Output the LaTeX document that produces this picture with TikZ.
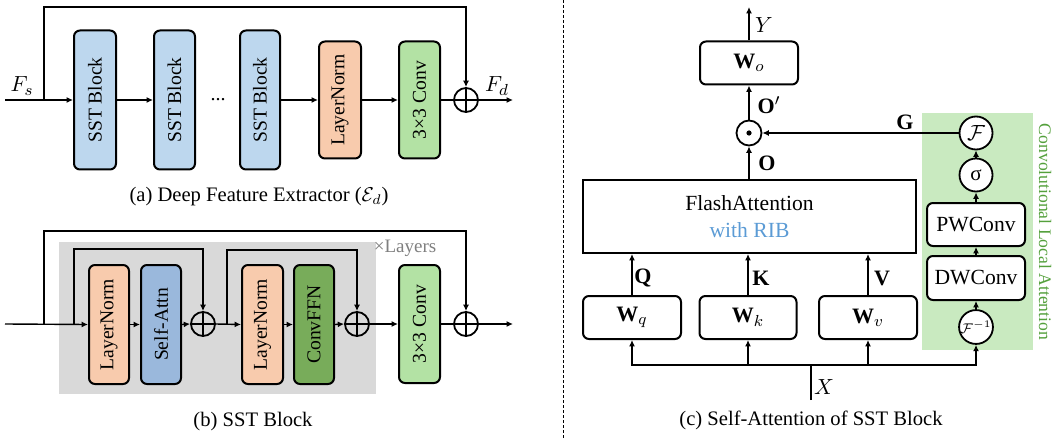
\documentclass[tikz,border=0pt]{standalone}
\usepackage{fontspec}
\setmainfont{Liberation Serif}
\usepackage{graphicx}
\usetikzlibrary{arrows.meta}
\definecolor{sstblue}{HTML}{BDD7EE}
\definecolor{peach}{HTML}{F8CBAD}
\definecolor{convgreen}{HTML}{B3E2A4}
\definecolor{attnblue}{HTML}{9AB8DC}
\definecolor{ffngreen}{HTML}{78AC5A}
\definecolor{bggray}{HTML}{D9D9D9}
\definecolor{clagreen}{HTML}{C9EAC0}
\definecolor{clatext}{RGB}{84,160,60}
\definecolor{ribblue}{HTML}{5B9BD5}
\definecolor{laytext}{HTML}{7F7F7F}
\begin{document}
\begin{tikzpicture}[x=0.5pt,y=-0.5pt,
  plainln/.style={line width=0.7pt},
  arr/.style={line width=0.7pt,-{Latex[length=3.2pt,width=3pt]}},
  blk/.style={draw,line width=1pt,rounded corners=3pt,inner sep=0pt,font=\fontsize{9.8}{11}\selectfont},
  pluscirc/.style={circle,draw,line width=0.9pt,minimum size=12pt,inner sep=0pt,
    path picture={\draw[line width=0.9pt] (path picture bounding box.north) -- (path picture bounding box.south) (path picture bounding box.west) -- (path picture bounding box.east);}},
  opc/.style={circle,draw,line width=0.9pt,minimum size=16.5pt,inner sep=0pt,fill=white,font=\fontsize{10.5}{12}\selectfont},
  wbox/.style={draw,line width=1pt,rounded corners=3pt,minimum width=49pt,minimum height=21.5pt,inner sep=0pt,fill=white,font=\fontsize{11}{12}\selectfont},
  captxt/.style={font=\fontsize{10.3}{12}\selectfont},
  labtxt/.style={font=\fontsize{11}{12}\selectfont,inner sep=0pt},
]
\useasboundingbox (0,0) rectangle (1052,438);

% ---------------- (a) ----------------
\node[blk,fill=sstblue,minimum width=21pt,minimum height=69.5pt] (s1) at (95,100) {\rotatebox{90}{SST Block}};
\node[blk,fill=sstblue,minimum width=20.5pt,minimum height=69.5pt] (s2) at (174.5,100) {\rotatebox{90}{SST Block}};
\node[anchor=base,font=\fontsize{10}{12}\selectfont,inner sep=0pt] (dots) at (218,101) {...};
\node[blk,fill=sstblue,minimum width=20pt,minimum height=69.5pt] (s3) at (260,100) {\rotatebox{90}{SST Block}};
\node[blk,fill=peach,minimum width=21pt,minimum height=58.5pt] (lna) at (340,100) {\rotatebox{90}{LayerNorm}};
\node[blk,fill=convgreen,minimum width=20.5pt,minimum height=58.5pt] (cva) at (419.5,100) {\rotatebox{90}{3×3 Conv}};
\node[pluscirc] (pa) at (466,100) {};
\coordinate (a0) at (5,100);
\coordinate (aj) at (44,100);
\coordinate (at) at (44,7);
\coordinate (aout) at (513,100);
\draw[arr] (a0) -- (s1.west);
\draw[arr] (aj) -- (at) -| (pa.north);
\draw[arr] (s1.east) -- (s2.west);
\draw[arr] (s3.east) -- (lna.west);
\draw[arr] (lna.east) -- (cva.west);
\draw[plainln] (cva.east) -- (pa.west);
\draw[arr] (pa.east) -- (aout);
\node[labtxt] (fs) at (22,86) {$F_s$};
\node[labtxt] (fd) at (497,86) {$F_d$};
\node[captxt] (capa) at (259,197) {(a) Deep Feature Extractor ($\mathcal{E}_d$)};

% ---------------- (b) ----------------
\node[fill=bggray,minimum width=158.5pt,minimum height=76pt,inner sep=0pt] (grp) at (217.5,318) {};
\node[font=\fontsize{9.5}{11}\selectfont,text=laytext,inner sep=0pt] (lay) at (405,248) {×Layers};
\node[blk,fill=peach,minimum width=20pt,minimum height=59.5pt] (ln1) at (109,324.5) {\rotatebox{90}{LayerNorm}};
\node[blk,fill=attnblue,minimum width=20pt,minimum height=59.5pt] (sa) at (161,324.5) {\rotatebox{90}{Self-Attn}};
\node[pluscirc] (p1) at (203,324) {};
\node[blk,fill=peach,minimum width=20.5pt,minimum height=59.5pt] (ln2) at (262.5,324.5) {\rotatebox{90}{LayerNorm}};
\node[blk,fill=ffngreen,minimum width=20pt,minimum height=59.5pt] (ffn) at (314,324.5) {\rotatebox{90}{ConvFFN}};
\node[pluscirc] (p2) at (357,324) {};
\node[blk,fill=convgreen,minimum width=20.5pt,minimum height=59pt] (cvb) at (419.5,324) {\rotatebox{90}{3×3 Conv}};
\node[pluscirc] (p3) at (466,324) {};
\coordinate (b0) at (5,324);
\coordinate (bj) at (44,324);
\coordinate (bt) at (44,231);
\coordinate (j1) at (74,324);
\coordinate (t1) at (74,249);
\coordinate (j2) at (227,324);
\coordinate (t2) at (227,250);
\coordinate (bout) at (513,324);
\draw[arr] (b0) -- (ln1.west);
\draw[arr] (bj) -- (bt) -| (p3.north);
\draw[arr] (j1) -- (t1) -| (p1.north);
\draw[arr] (j2) -- (t2) -| (p2.north);
\draw[arr] (ln1.east) -- (sa.west);
\draw[arr] (sa.east) -- (p1.west);
\draw[arr] (p1.east) -- (ln2.west);
\draw[arr] (ln2.east) -- (ffn.west);
\draw[arr] (ffn.east) -- (p2.west);
\draw[arr] (p2.east) -- (cvb.west);
\draw[plainln] (cvb.east) -- (p3.west);
\draw[arr] (p3.east) -- (bout);
\node[captxt] (capb) at (253,422) {(b) SST Block};

% ---------------- divider ----------------
\coordinate (dvt) at (563,0);
\coordinate (dvb) at (563,438);
\draw[line width=0.5pt,dash pattern=on 1.5pt off 1pt] (dvt) -- (dvb);

% ---------------- (c) ----------------
\node[fill=clagreen,minimum width=55.5pt,minimum height=118.5pt,inner sep=0pt] (cla) at (977.5,231.5) {};
\node[rotate=-90,text=clatext,font=\fontsize{8.8}{10}\selectfont,inner sep=0pt] (clat) at (1045,232) {Convolutional Local Attention};

\node[wbox] (wo) at (749,63) {$\mathbf{W}_o$};
\node[circle,draw,line width=0.9pt,minimum size=12.5pt,inner sep=0pt] (od) at (749,133) {};
\fill (od.center) circle (1.3pt);
\node[draw,line width=1pt,minimum width=166.5pt,minimum height=36.5pt,inner sep=0pt,align=center,font=\fontsize{10.8}{13.5}\selectfont] (fa) at (749.5,216.5) {FlashAttention\\\textcolor{ribblue}{with RIB}};
\node[wbox] (wq) at (632,317.5) {$\mathbf{W}_q$};
\node[wbox,minimum width=48.5pt] (wk) at (748,317.5) {$\mathbf{W}_k$};
\node[wbox] (wv) at (868,317.5) {$\mathbf{W}_v$};

\node[opc] (ff) at (976,133) {$\mathcal{F}$};
\node[opc] (sg) at (976,175) {σ};
\node[wbox,font=\fontsize{10.8}{12}\selectfont] (pw) at (976,224.5) {PWConv};
\node[wbox,font=\fontsize{10.8}{12}\selectfont,minimum height=22pt] (dw) at (976,278) {DWConv};
\node[opc] (fi) at (976,327) {$\scriptstyle\mathcal{F}^{-1}$};

\coordinate (yout) at (749,7);
\coordinate (xj) at (811,365);
\coordinate (xb) at (811,400);

\draw[arr] (wo.north) -- (yout);
\draw[arr] (od.north) -- (wo.south);
\draw[arr] (fa.north -| od.south) -- (od.south);
\draw[arr] (ff.west) -- (od.east);
\draw[arr] (wq.north) -- (wq.north |- fa.south);
\draw[arr] (wk.north) -- (wk.north |- fa.south);
\draw[arr] (wv.north) -- (wv.north |- fa.south);
\draw[plainln] (xb) -- (xj);
\draw[arr] (xj) -| (wq.south);
\draw[arr] (xj) -| (wk.south);
\draw[arr] (xj) -| (wv.south);
\draw[arr] (xj) -| (fi.south);
\draw[arr] (fi.north) -- (dw.south);
\draw[arr] (dw.north) -- (pw.south);
\draw[arr] (pw.north) -- (sg.south);
\draw[arr] (sg.north) -- (ff.south);

\node[labtxt] (ly) at (764,25) {$Y$};
\node[labtxt] (lop) at (769,105) {$\mathbf{O}'$};
\node[labtxt] (lo) at (767,163) {$\mathbf{O}$};
\node[labtxt] (lg) at (905,122) {$\mathbf{G}$};
\node[labtxt] (lq) at (643,278) {$\mathbf{Q}$};
\node[labtxt] (lk) at (761,278) {$\mathbf{K}$};
\node[labtxt] (lv) at (882,278) {$\mathbf{V}$};
\node[labtxt] (lx) at (824,387) {$X$};
\node[captxt] (capc) at (811,420) {(c) Self-Attention of SST Block};
\end{tikzpicture}
\end{document}
